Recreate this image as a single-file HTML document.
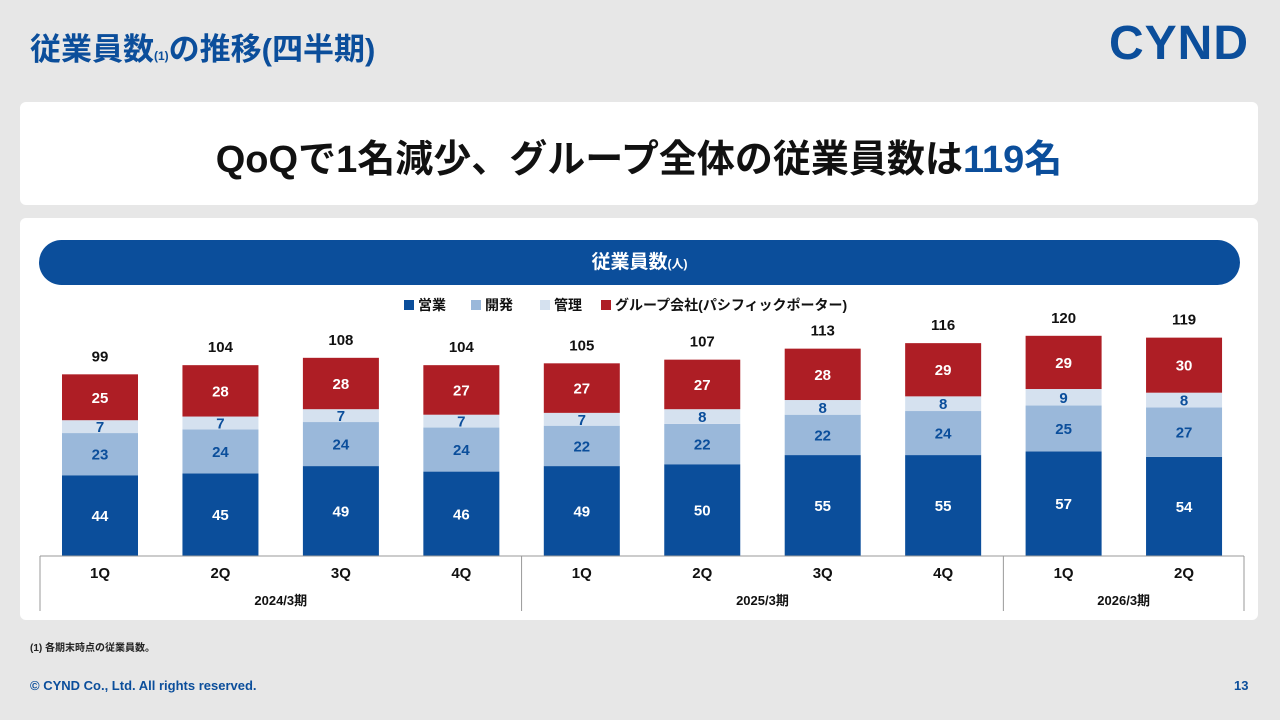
<!DOCTYPE html>
<html><head><meta charset="utf-8"><style>
body{margin:0;width:1280px;height:720px;background:#e7e7e7;font-family:"Liberation Sans","Noto Sans CJK JP",sans-serif;position:relative;overflow:hidden}
.abs{position:absolute}
</style></head><body>
<div class="abs" style="left:30px;top:24px;font-size:31px;font-weight:bold;color:#0b4e9b;white-space:nowrap">従業員数<span style="font-size:12px">(1)</span>の推移(四半期)</div>
<div class="abs" style="left:1109px;top:16px;font-size:48px;font-weight:900;color:#0b4e9b;letter-spacing:1px">CYND</div>
<div class="abs" style="left:20px;top:102px;width:1238px;height:103px;background:#fff;border-radius:6px"></div>
<div class="abs" style="left:20px;top:128px;width:1238px;text-align:center;font-size:38px;font-weight:bold;color:#111;white-space:nowrap">QoQで1名減少、グループ全体の従業員数は<span style="color:#0b4e9b">119名</span></div>
<div class="abs" style="left:20px;top:218px;width:1238px;height:402px;background:#fff;border-radius:6px"></div>
<div class="abs" style="left:39px;top:240px;width:1201px;height:45px;background:#0b4e9b;border-radius:23px;color:#fff;text-align:center;line-height:45px;font-size:19px;font-weight:bold">従業員数<span style="font-size:12px">(人)</span></div>
<svg class="abs" style="left:0;top:0" width="1280" height="720" id="chart"></svg>
<div class="abs" style="left:30px;top:639px;font-size:10px;font-weight:bold;color:#222">(1) 各期末時点の従業員数。</div>
<div class="abs" style="left:30px;top:678px;font-size:13px;font-weight:bold;color:#0b4e9b">© CYND Co., Ltd. All rights reserved.</div>
<div class="abs" style="left:1234px;top:678px;font-size:13px;font-weight:bold;color:#0b4e9b">13</div>
<script>
const quarters=["1Q","2Q","3Q","4Q","1Q","2Q","3Q","4Q","1Q","2Q"];
const sales=[44,45,49,46,49,50,55,55,57,54];
const dev=[23,24,24,24,22,22,22,24,25,27];
const admin=[7,7,7,7,7,8,8,8,9,8];
const group=[25,28,28,27,27,27,28,29,29,30];
const totals=[99,104,108,104,105,107,113,116,120,119];
const periods=["2024/3期","2025/3期","2026/3期"];
const periodSpans=[4,4,2];
const seriesNames=["営業","開発","管理","グループ会社(パシフィックポーター)"];
const colors=["#0b4e9b","#9ab8da","#d5e1ef","#ae1e25"];
const labelColors=["#fff","#0b4e9b","#0b4e9b","#fff"];
const NS="http://www.w3.org/2000/svg";
const svg=document.getElementById('chart');
const base=556,k=1.835,x0=100,step=120.45,bw=76;
const xs=i=>x0+i*step, ys=v=>v*k;
function mk(t,a){const e=document.createElementNS(NS,t);for(const n in a)e.setAttribute(n,a[n]);svg.appendChild(e);return e;}
function txt(x,y,s,o){const e=mk('text',Object.assign({x:x,y:y,'text-anchor':'middle','font-size':15,'font-weight':'bold',fill:'#111','font-family':'"Liberation Sans","Noto Sans CJK JP",sans-serif'},o||{}));e.textContent=s;return e;}
const series=[sales,dev,admin,group];
quarters.forEach((q,i)=>{
  let acc=0;
  series.forEach((s,j)=>{
    const h=ys(s[i]),y=base-ys(acc)-h;
    const r=mk('rect',{x:xs(i)-bw/2,y:y,width:bw,height:h,fill:colors[j]});
    
    
    const t=txt(xs(i),y+h/2+5.5,s[i],{fill:labelColors[j]});
    
    
    acc+=s[i];
  });
  const tt=txt(xs(i),base-ys(totals[i])-13,totals[i]);
  
  
  const ql=txt(xs(i),578,q);
  
  
});
mk('line',{x1:40,x2:1244,y1:base,y2:base,stroke:'#999','stroke-width':1});
let start=0;let edge=40;
mk('line',{x1:40,x2:40,y1:base,y2:611,stroke:'#999'});
periods.forEach((p,i)=>{
  const end=start+periodSpans[i];
  const right=end<quarters.length?(xs(end-1)+xs(end))/2:1244;
  mk('line',{x1:right,x2:right,y1:base,y2:611,stroke:'#999'});
  const pl=txt((edge+right)/2,605,p,{'font-size':13});
  
  
  edge=right;start=end;
});
const lx=[404,471,540,601];
seriesNames.forEach((n,j)=>{
  const r=mk('rect',{x:lx[j],y:300,width:10,height:10,fill:colors[j]});
  
  
  const t=txt(lx[j]+14,310,n,{'text-anchor':'start','font-size':14});
  
  
});
</script>
</body></html>
